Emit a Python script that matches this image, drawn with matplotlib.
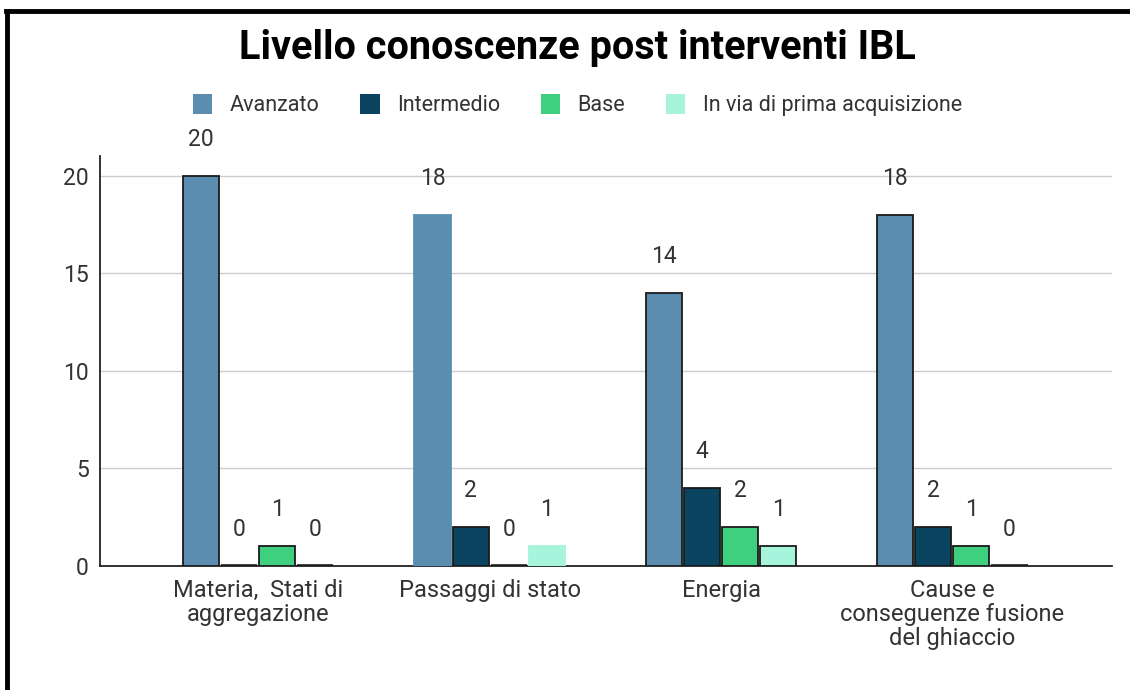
import matplotlib.pyplot as plt
from matplotlib.lines import Line2D
import numpy as np

# categorie e livelli
categorie = ["Materia,  Stati di\naggregazione", "Passaggi di stato", "Energia",
             "Cause e\nconseguenze fusione\ndel ghiaccio"]
livelli = ["Avanzato", "Intermedio", "Base", "In via di prima acquisizione"]

avanzato = [20, 18, 14, 18]
intermedio = [0, 2, 4, 2]
base = [1, 0, 2, 1]
in_via = [0, 1, 1, 0]

colori = ["#5b8db1", "#0a4460", "#3fd07f", "#a6f4db"]
# barre disegnate senza bordo scuro (gruppo, serie)
senza_bordo = [(1, 0), (1, 3)]

plt.rcParams['font.family'] = ['Roboto', 'DejaVu Sans']

fig = plt.figure(figsize=(11.3, 6.9), dpi=100)
ax = fig.add_axes([0.0885, 0.1797, 0.8956, 0.594])

x = np.arange(len(categorie))
passo = 0.1645
larg = 0.156
serie = [avanzato, intermedio, base, in_via]

for i, (valori, col, nome) in enumerate(zip(serie, colori, livelli)):
    pos = x + (i - 1.5) * passo
    bars = ax.bar(pos, valori, width=larg, color=col, edgecolor="#1a1a1a",
                  linewidth=1.3, label=nome, zorder=3)
    for g, b in enumerate(bars):
        if (g, i) in senza_bordo:
            b.set_edgecolor(col)
        if valori[g] == 0:
            # valore nullo: solo una linea scura sulla base
            b.set_linewidth(2.6)
    ax.bar_label(bars, labels=[str(v) for v in valori], padding=18,
                 fontsize=16.5, color="#333333")

ax.set_xlim(-0.684, 3.69)
ax.set_ylim(0, 21)
ax.set_yticks([0, 5, 10, 15, 20])
ax.grid(axis="y", color="#cccccc", linewidth=1, zorder=0)
ax.set_axisbelow(True)
ax.set_xticks(x)
ax.set_xticklabels(categorie, fontsize=17, color="#333333", linespacing=1.07)
ax.tick_params(axis="both", length=0, labelsize=16.5, labelcolor="#333333")
ax.tick_params(axis="x", labelsize=17, pad=9)
ax.tick_params(axis="y", pad=8)
for s in ["top", "right"]:
    ax.spines[s].set_visible(False)
ax.spines["left"].set_color("#222222")
ax.spines["bottom"].set_color("#222222")
ax.spines["left"].set_linewidth(1.3)
ax.spines["bottom"].set_linewidth(1.3)

fig.text(0.511, 0.93, "Livello conoscenze post interventi IBL", ha="center",
         va="center", fontsize=28.5, fontweight="bold", color="#000000")

fig.legend(loc="center", bbox_to_anchor=(0.511, 0.848), ncol=4, frameon=False,
           fontsize=15.5, handlelength=0.9, handleheight=1.05, handletextpad=0.8,
           columnspacing=1.9, labelcolor="#333333")
for h in fig.legends[0].legend_handles:
    h.set_edgecolor("none")

# cornice nera in alto e a sinistra
fig.add_artist(Line2D([0.0053, 1.0], [0.984, 0.984], color="black", lw=3.5,
                      transform=fig.transFigure))
fig.add_artist(Line2D([0.0065, 0.0065], [0.0, 0.984], color="black", lw=3.5,
                      transform=fig.transFigure))

fig.savefig("out.png", dpi=100)
